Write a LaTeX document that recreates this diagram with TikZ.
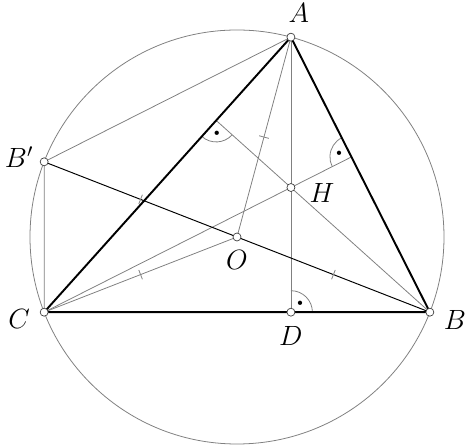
\documentclass[tikz,border=0pt]{standalone}
\usetikzlibrary{calc,angles,quotes}
\tikzset{
  aux/.style={gray, line width=0.45pt},
  side/.style={black, line width=1.1pt},
  pnt/.style={circle, draw=black!75, fill=white, inner sep=0pt, minimum size=0.16cm, line width=0.4pt},
  lbl/.style={font=\Large, scale=1.1},
  rmark/.style={draw=gray, text=black, line width=0.45pt, angle radius=0.43cm, font=\tiny}
}
\begin{document}
\begin{tikzpicture}
  \useasboundingbox (-4.74,-4.22) rectangle (4.56,4.74);
  \def\R{4.14}
  \coordinate (O) at (0,0);
  \coordinate (A) at (74.9:\R);
  \coordinate (B) at (-21.3:\R);
  \coordinate (C) at (201.3:\R);
  \coordinate (Bp) at (158.7:\R);
  \coordinate (H) at ($(A)+(B)+(C)$);
  \coordinate (D) at ($(B)!(A)!(C)$);
  \coordinate (E) at ($(A)!(B)!(C)$);
  \coordinate (F) at ($(A)!(C)!(B)$);
  % circumcircle and auxiliary lines
  \draw[aux] (O) circle (\R);
  \draw[aux] (A) -- (Bp) -- (C);
  \draw[aux] (A) -- (D);
  \draw[aux] (A) -- (O) -- (C);
  \draw[aux] (C) -- (F);
  \draw[aux] (B) -- (E);
  \draw[black, line width=0.55pt] (Bp) -- (B);
  % equal radii
  \foreach \p in {A,B,C,Bp}
    \draw[aux] ($(O)!0.5!(\p)!0.1cm!90:(\p)$) -- ($(O)!0.5!(\p)!0.1cm!-90:(\p)$);
  % right angles
  \pic[rmark, "$\bullet$"] {angle = B--D--A};
  \pic[rmark, "$\bullet$"] {angle = C--E--B};
  \pic[rmark, "$\bullet$"] {angle = A--F--C};
  % triangle
  \draw[side] (A) -- (B) -- (C) -- cycle;
  % points
  \foreach \p in {A,B,C,Bp,D,H,O}
    \node[pnt] (n\p) at (\p) {};
  \node[lbl] (lA) at ($(A)+(0.16,0.48)$) {$A$};
  \node[lbl] (lB) at ($(B)+(0.5,-0.16)$) {$B$};
  \node[lbl] (lC) at ($(C)+(-0.5,-0.14)$) {$C$};
  \node[lbl] (lD) at ($(D)+(0,-0.48)$) {$D$};
  \node[lbl] (lH) at ($(H)+(0.62,-0.1)$) {$H$};
  \node[lbl] (lO) at ($(O)+(0,-0.46)$) {$O$};
  \node[lbl] (lBp) at ($(Bp)+(-0.5,0.1)$) {$B'$};
\end{tikzpicture}
\end{document}
